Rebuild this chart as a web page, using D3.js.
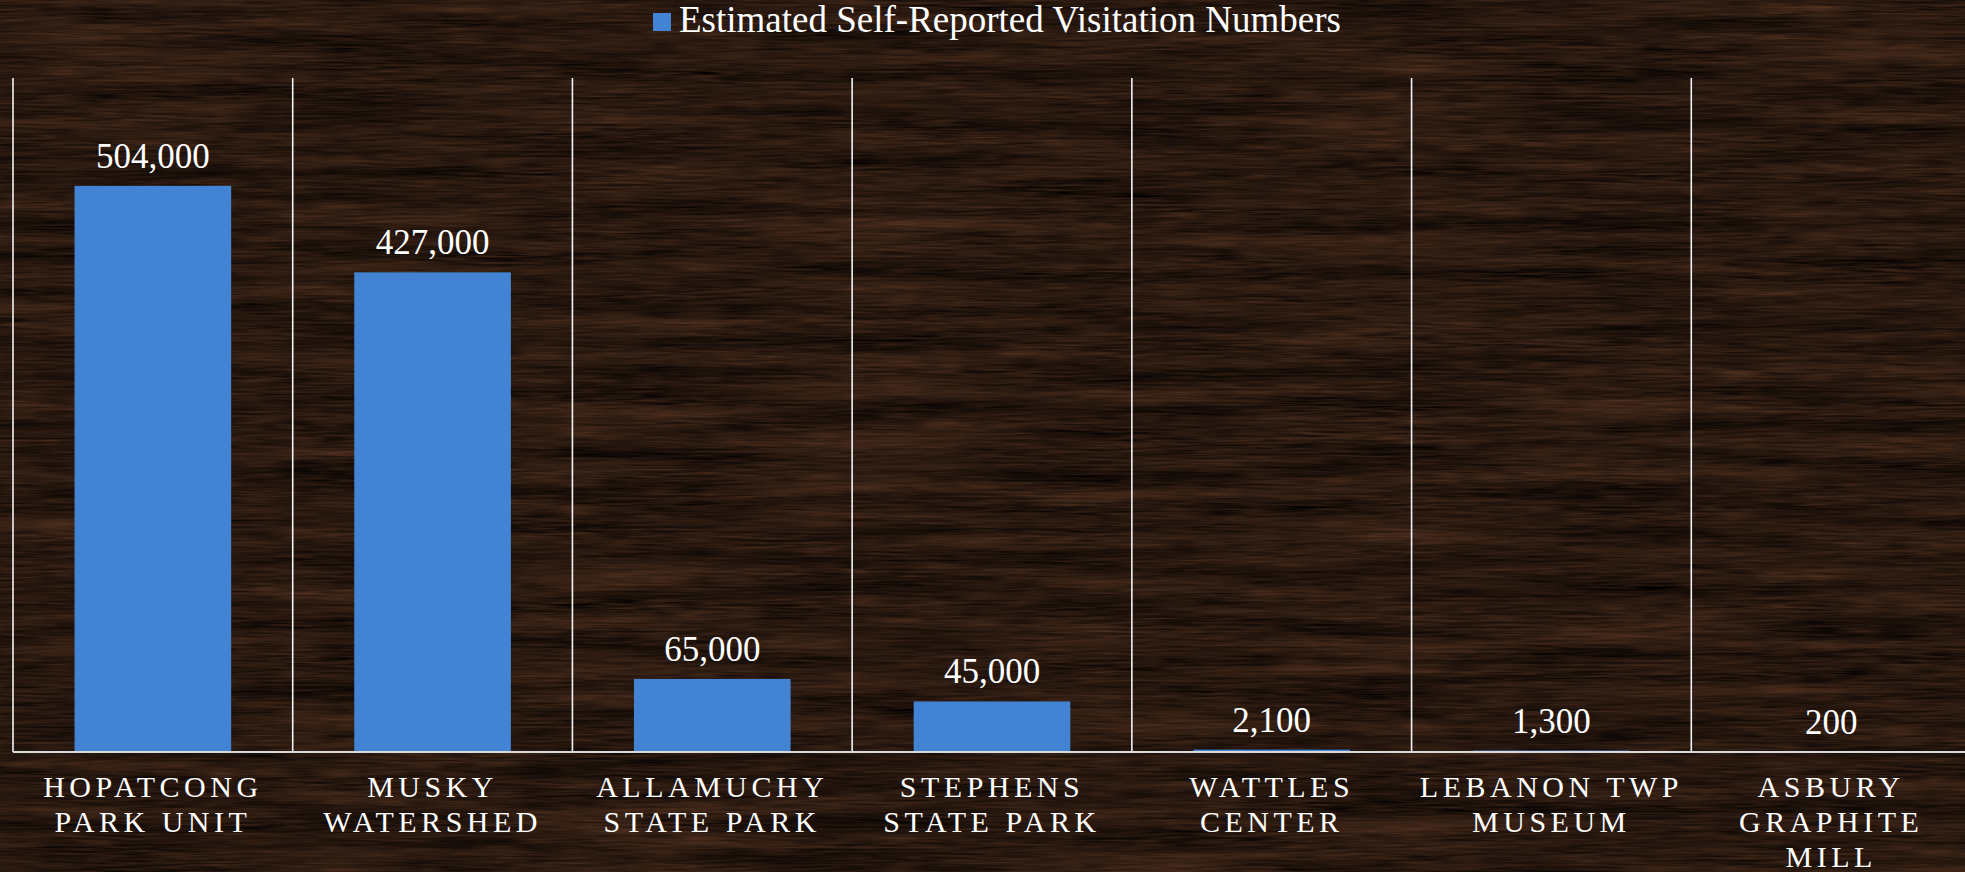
<!DOCTYPE html>
<html>
<head>
<meta charset="UTF-8">
<title>Visitation Numbers</title>
<script src="https://cdn.jsdelivr.net/npm/d3@7"></script>
<style type="text/css">
	body{
		margin: 0;
		overflow: hidden;
		background: #2a1910;
	}
	text{
		font-family: "Liberation Serif", "DejaVu Serif", serif;
		fill: #ffffff;
	}
</style>
</head>
<body>
<script>
// chart data
var categories = ["HOPATCONG PARK UNIT", "MUSKY WATERSHED", "ALLAMUCHY STATE PARK",
	"STEPHENS STATE PARK", "WATTLES CENTER", "LEBANON TWP MUSEUM", "ASBURY GRAPHITE MILL"];
var visits = [504000, 427000, 65000, 45000, 2100, 1300, 200];
var seriesName = "Estimated Self-Reported Visitation Numbers";

var width = 1965;
var height = 872;
var margin = {left: 13, right: -6, top: 78, bottom: 120};

var svg = d3.select("body").append("svg")
	.attr("width", width)
	.attr("height", height);

// wood background, made of stretched noise
var defs = svg.append("defs");
var wood = defs.append("filter")
	.attr("id", "wood")
	.attr("x", 0).attr("y", 0)
	.attr("width", "100%").attr("height", "100%")
	.attr("color-interpolation-filters", "sRGB");
wood.append("feTurbulence")
	.attr("type", "fractalNoise")
	.attr("baseFrequency", "0.004 0.06")
	.attr("numOctaves", 4)
	.attr("seed", 7)
	.attr("result", "broad");
wood.append("feTurbulence")
	.attr("type", "fractalNoise")
	.attr("baseFrequency", "0.025 0.45")
	.attr("numOctaves", 2)
	.attr("seed", 11)
	.attr("result", "grain");
wood.append("feComposite")
	.attr("in", "broad")
	.attr("in2", "grain")
	.attr("operator", "arithmetic")
	.attr("k1", 0).attr("k2", 0.6).attr("k3", 0.5).attr("k4", -0.05)
	.attr("result", "mix");
wood.append("feColorMatrix")
	.attr("in", "mix")
	.attr("type", "matrix")
	.attr("values",
		"0.42 0 0 0 -0.03 " +
		"0.26 0 0 0 -0.022 " +
		"0.17 0 0 0 -0.017 " +
		"0 0 0 0 1");

svg.append("rect")
	.attr("width", width)
	.attr("height", height)
	.attr("filter", "url(#wood)");

// scales
var x = d3.scaleBand()
	.domain(categories)
	.range([margin.left, width - margin.right])
	.padding(0);

var y = d3.scaleLinear()
	.domain([0, 600000])
	.range([height - margin.bottom, margin.top]);

var barWidth = x.bandwidth() * 0.56;
var fmt = d3.format(",");

// category separators
svg.append("g")
	.selectAll("line")
	.data(categories)
	.enter()
		.append("line")
		.attr("x1", function(d){ return x(d); })
		.attr("x2", function(d){ return x(d); })
		.attr("y1", y(600000))
		.attr("y2", y(0))
		.attr("stroke", "#f2f2f2")
		.attr("stroke-width", 1.6);

// bars
svg.append("g")
	.selectAll("rect")
	.data(visits)
	.enter()
		.append("rect")
		.attr("x", function(d, i){ return x(categories[i]) + (x.bandwidth() - barWidth) / 2; })
		.attr("y", function(d){ return y(d); })
		.attr("width", barWidth)
		.attr("height", function(d){ return y(0) - y(d); })
		.attr("fill", "#4283d4");

// baseline
svg.append("line")
	.attr("x1", margin.left)
	.attr("x2", width)
	.attr("y1", y(0))
	.attr("y2", y(0))
	.attr("stroke", "#d9d9d9")
	.attr("stroke-width", 2);

// value labels
svg.append("g")
	.selectAll("text")
	.data(visits)
	.enter()
		.append("text")
		.attr("x", function(d, i){ return x(categories[i]) + x.bandwidth() / 2; })
		.attr("y", function(d){ return y(d) - 18; })
		.attr("text-anchor", "middle")
		.attr("font-size", "35px")
		.text(function(d){ return fmt(d); });

// category labels, wrapped to the band width
var catGroup = svg.append("g");
categories.forEach(function(c){
	var t = catGroup.append("text")
		.attr("text-anchor", "middle")
		.attr("font-size", "30px")
		.attr("letter-spacing", "4.5px");
	var words = c.split(" ");
	var lines = [];
	var line = [];
	words.forEach(function(w){
		var test = line.concat([w]).join(" ");
		t.text(test);
		if (line.length > 0 && t.node().getComputedTextLength() > 270) {
			lines.push(line.join(" "));
			line = [w];
		} else {
			line.push(w);
		}
	});
	lines.push(line.join(" "));
	t.text(null);
	lines.forEach(function(l, i){
		t.append("tspan")
			.attr("x", x(c) + x.bandwidth() / 2)
			.attr("y", 797 + i * 35)
			.text(l);
	});
});

// legend
var legend = svg.append("g");
legend.append("rect")
	.attr("x", 653)
	.attr("y", 13)
	.attr("width", 18)
	.attr("height", 18)
	.attr("fill", "#4283d4");
legend.append("text")
	.attr("x", 679)
	.attr("y", 32)
	.attr("font-size", "37px")
	.text(seriesName);
</script>
</body>
</html>
